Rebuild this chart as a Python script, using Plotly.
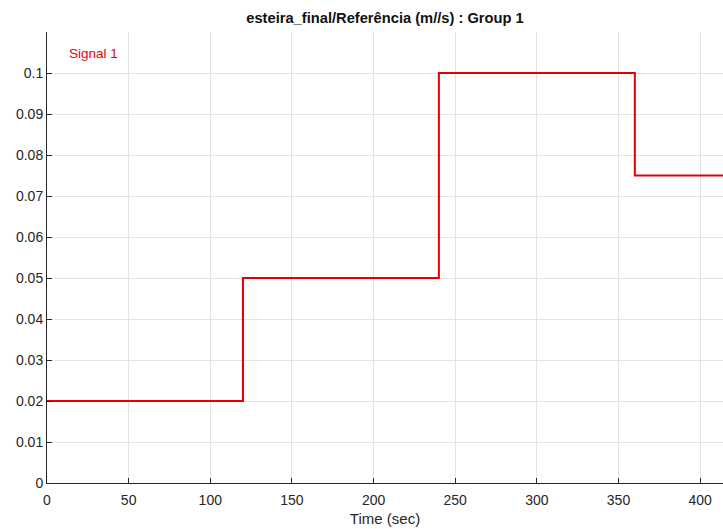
import plotly.graph_objects as go

# Step reference signal: switch times (s) and levels (m/s)
switch_times = [0, 120, 240, 360, 420]
levels = [0.02, 0.05, 0.1, 0.075, 0.075]
signal_name = "Signal 1"
x_ticks = [0, 50, 100, 150, 200, 250, 300, 350, 400]
y_ticks = [0, 0.01, 0.02, 0.03, 0.04, 0.05, 0.06, 0.07, 0.08, 0.09, 0.1]

red = "rgb(228,0,0)"
text_col = "#262626"

fig = go.Figure()
fig.add_trace(go.Scatter(
    x=switch_times, y=levels, mode="lines", line_shape="hv",
    name=signal_name, line=dict(color=red, width=2), showlegend=False,
))

fig.add_annotation(
    text=signal_name, xref="paper", yref="paper", x=0.029, y=0.952,
    xanchor="left", yanchor="middle", showarrow=False,
    font=dict(color=red, size=13.5),
)

axis_common = dict(
    showgrid=True, gridcolor="#e3e3e3", gridwidth=1,
    showline=True, linecolor="#262626", linewidth=1,
    ticks="inside", ticklen=5, tickcolor="#262626",
    zeroline=False, tickfont=dict(size=14, color=text_col),
)

fig.update_layout(
    width=723, height=529,
    margin=dict(l=47, r=0, t=32, b=46),
    paper_bgcolor="white", plot_bgcolor="white",
    font=dict(family="Liberation Sans, Arial, sans-serif", color=text_col),
    title=dict(
        text="<b>esteira_final/Referência (m//s) : Group 1</b>",
        x=0.5, xref="paper", xanchor="center", y=0.966, yanchor="middle",
        font=dict(size=14.7, color="#111111"),
    ),
    xaxis=dict(range=[0, 414], tickvals=x_ticks, ticklabelstandoff=4,
               title=dict(text="Time (sec)", font=dict(size=15, color=text_col), standoff=6),
               **axis_common),
    yaxis=dict(range=[0, 0.11], tickvals=y_ticks, **axis_common),
)

fig.write_html("out.html")
